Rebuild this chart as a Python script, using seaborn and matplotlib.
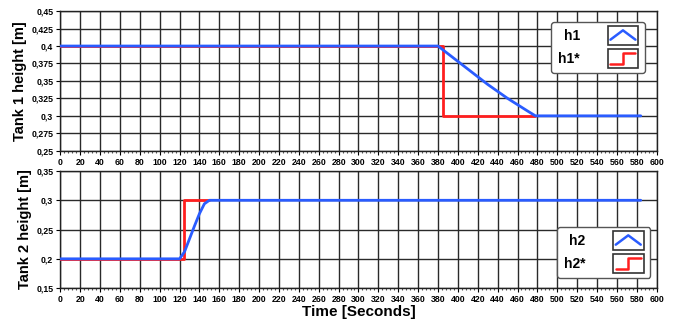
import numpy as np
import pandas as pd
import matplotlib
matplotlib.use("Agg")
import matplotlib.pyplot as plt
import seaborn as sns
from matplotlib.legend_handler import HandlerBase
from matplotlib.patches import Rectangle
from matplotlib.lines import Line2D
from matplotlib.ticker import MultipleLocator

# Tank 1 data
h1_t = [0, 380, 390, 400, 410, 420, 430, 440, 450, 460, 470, 478, 584]
h1_v = [0.4, 0.4, 0.389, 0.378, 0.367, 0.356, 0.345, 0.335, 0.325, 0.316, 0.307, 0.3, 0.3]
h1_ref_t = [0, 385, 385, 478]
h1_ref_v = [0.4, 0.4, 0.3, 0.3]

# Tank 2 data
h2_t = [0, 120, 125, 130, 135, 140, 145, 150, 584]
h2_v = [0.2, 0.2, 0.212, 0.234, 0.256, 0.277, 0.294, 0.3, 0.3]
h2_ref_t = [0, 124, 124, 150]
h2_ref_v = [0.2, 0.2, 0.3, 0.3]

x_ticks = list(range(0, 601, 20))
y1_ticks = [0.25, 0.275, 0.3, 0.325, 0.35, 0.375, 0.4, 0.425, 0.45]
y1_labels = ["0,25", "0,275", "0,3", "0,325", "0,35", "0,375", "0,4", "0,425", "0,45"]
y2_ticks = [0.15, 0.2, 0.25, 0.3, 0.35]
y2_labels = ["0,15", "0,2", "0,25", "0,3", "0,35"]

BLUE = "#2a5cff"
RED = "#ff1f1f"

sns.set_theme(style="white")
plt.rcParams["font.family"] = ["Liberation Sans", "DejaVu Sans"]
plt.rcParams["font.weight"] = "bold"
plt.rcParams["text.color"] = "black"
plt.rcParams["axes.labelcolor"] = "black"


class IconHandler(HandlerBase):
    def __init__(self, kind):
        super().__init__()
        self.kind = kind

    def create_artists(self, legend, orig_handle, xdescent, ydescent,
                       width, height, fontsize, trans):
        box = Rectangle((-xdescent, -ydescent - 2), width, height + 4,
                        facecolor="white", edgecolor="#333333", lw=1.2, transform=trans)
        x0, x1 = -xdescent + 2, -xdescent + width - 2
        y0, y1 = -ydescent, -ydescent + height
        if self.kind == "peak":
            xs = [x0, (x0 + x1) / 2, x1]
            ys = [y0 + 0.2 * height, y1 - 0.1 * height, y0 + 0.2 * height]
            c = BLUE
        else:
            xm = (x0 + x1) / 2
            xs = [x0, xm, xm, x1]
            ys = [y0 + 0.1 * height, y0 + 0.1 * height, y1 - 0.1 * height, y1 - 0.1 * height]
            c = RED
        ln = Line2D(xs, ys, color=c, lw=1.8, transform=trans)
        return [box, ln]


def style_axes(ax, yticks, ylabels, ylim, ylabel):
    ax.set_xlim(0, 600)
    ax.set_ylim(*ylim)
    ax.set_xticks(x_ticks)
    ax.set_xticklabels([str(t) for t in x_ticks], fontsize=6.3, fontweight="bold")
    ax.xaxis.set_minor_locator(MultipleLocator(4))
    ax.set_yticks(yticks)
    ax.set_yticklabels(ylabels, fontsize=6.3, fontweight="bold")
    ax.tick_params(axis="both", which="major", direction="out", length=3, width=0.8,
                   pad=2, bottom=True, left=True, colors="black")
    ax.tick_params(axis="x", which="minor", direction="out", length=1.5, width=0.8,
                   bottom=True, colors="#555555")
    ax.grid(True, which="major", color="#2a2a2a", lw=1.0)
    ax.set_axisbelow(True)
    for s in ax.spines.values():
        s.set_color("#222222")
        s.set_linewidth(1.0)
    ax.set_ylabel(ylabel, fontsize=10.5, fontweight="bold", labelpad=3)
    ax.set_xlabel("")


fig = plt.figure(figsize=(6.77, 3.27), dpi=100)
ax1 = fig.add_axes([0.089, 0.539, 0.881, 0.427])
ax2 = fig.add_axes([0.089, 0.119, 0.881, 0.358])

df1 = pd.DataFrame({"t": h1_t, "h": h1_v})
df1r = pd.DataFrame({"t": h1_ref_t, "h": h1_ref_v})
df2 = pd.DataFrame({"t": h2_t, "h": h2_v})
df2r = pd.DataFrame({"t": h2_ref_t, "h": h2_ref_v})

sns.lineplot(data=df1r, x="t", y="h", ax=ax1, color=RED, lw=2, sort=False, estimator=None, zorder=3)
sns.lineplot(data=df1, x="t", y="h", ax=ax1, color=BLUE, lw=2, sort=False, estimator=None, zorder=4)
sns.lineplot(data=df2r, x="t", y="h", ax=ax2, color=RED, lw=2, sort=False, estimator=None, zorder=3)
sns.lineplot(data=df2, x="t", y="h", ax=ax2, color=BLUE, lw=2, sort=False, estimator=None, zorder=4)

style_axes(ax1, y1_ticks, y1_labels, (0.25, 0.45), "Tank 1 height [m]")
style_axes(ax2, y2_ticks, y2_labels, (0.15, 0.35), "Tank 2 height [m]")
ax2.set_xlabel("Time [Seconds]", fontsize=11, fontweight="bold", labelpad=1)

for ax, names, loc in [(ax1, ["h1", "h1*"], (0.834, 0.578, 0.136, 0.322)),
                       (ax2, ["h2", "h2*"], (0.842, 0.111, 0.138, 0.385))]:
    ha = Line2D([], [], color=BLUE)
    hb = Line2D([], [], color=RED)
    leg = ax.legend([ha, hb], names, handler_map={ha: IconHandler("peak"), hb: IconHandler("step")},
                    loc="center", bbox_to_anchor=loc, markerfirst=False,
                    handlelength=2.2, handleheight=1.1, handletextpad=2.0, labelspacing=0.6,
                    borderpad=0.5, fancybox=True, framealpha=1, edgecolor="#555555",
                    prop={"size": 10, "weight": "bold"})
    leg.get_frame().set_linewidth(1.0)
    leg.set_zorder(10)

fig.savefig("out.png", dpi=100)
